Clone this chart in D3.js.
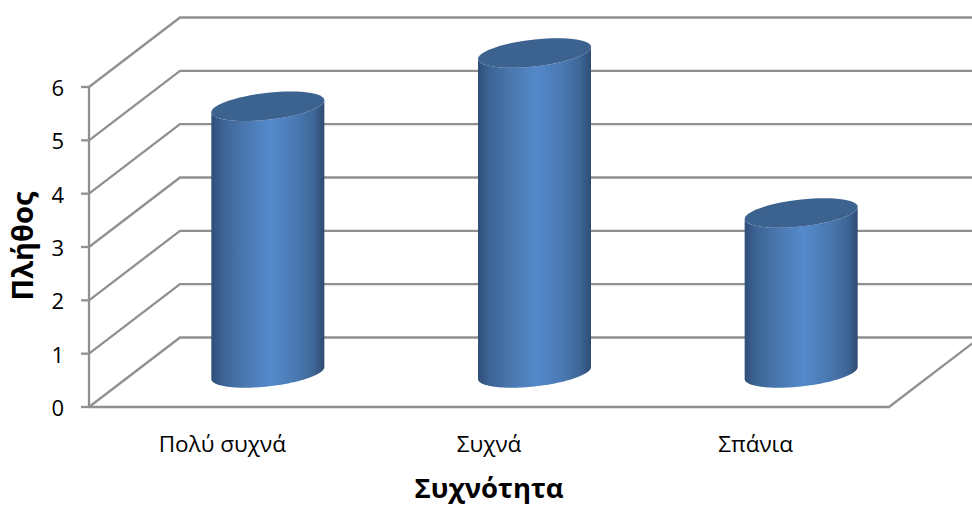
<!DOCTYPE html>
<html lang="el">
<head>
<meta charset="utf-8">
<script src="https://cdn.jsdelivr.net/npm/d3@7"></script>
<style>
  html, body { margin: 0; padding: 0; background: #fff; }
  svg { display: block; }
  text { font-family: "Open Sans", "Noto Sans", sans-serif; fill: #000; }
</style>
</head>
<body>
<svg id="chart" width="972" height="506"></svg>
<script>
const categories = ["Πολύ συχνά", "Συχνά", "Σπάνια"];
const counts = [5, 6, 3];
const yTicks = [0, 1, 2, 3, 4, 5, 6];
const xTitle = "Συχνότητα";
const yTitle = "Πλήθος";

const svg = d3.select("#chart");
const W = 972, H = 506;

// Front plane of the 3D box, and the shift from the front plane to the back wall
const x = d3.scaleBand().domain(categories).range([89, 889]);
const y = d3.scaleLinear().domain([0, 6]).range([407, 87]);
const depthX = 91, depthY = -69.5;
const gridColor = "#909090";

const defs = svg.append("defs");
const grad = defs.append("linearGradient").attr("id", "cylinderSide");
[[0, "#2e4e77"], [0.1, "#3d6495"], [0.3, "#4a78b0"], [0.52, "#5489cb"],
 [0.74, "#4a79b3"], [0.9, "#3f6798"], [1, "#2e4c72"]].forEach(([o, c]) =>
  grad.append("stop").attr("offset", o).attr("stop-color", c));
const clip = defs.append("clipPath").attr("id", "plotClip");
clip.append("rect").attr("width", W).attr("height", H);

const frame = svg.append("g").attr("clip-path", "url(#plotClip)")
  .attr("fill", "none").attr("stroke", gridColor).attr("stroke-width", 2.3);

// Horizontal rules on the back wall with their slanted side-wall runs
frame.selectAll("path.grid").data(yTicks).join("path")
  .attr("class", "grid")
  .attr("d", d => {
    const p = d3.path();
    p.moveTo(x.range()[0], y(d));
    p.lineTo(x.range()[0] + depthX, y(d) + depthY);
    p.lineTo(W + 10, y(d) + depthY);
    return p.toString();
  });

// Floor edges
const floor = d3.path();
floor.moveTo(x.range()[0], y(0));
floor.lineTo(x.range()[1], y(0));
floor.lineTo(x.range()[1] + depthX, y(0) + depthY);
frame.append("path").attr("d", floor.toString());

// Value axis with outward ticks
frame.append("line")
  .attr("x1", x.range()[0]).attr("x2", x.range()[0])
  .attr("y1", y(6)).attr("y2", y(0));
frame.selectAll("line.tick").data(yTicks).join("line")
  .attr("class", "tick")
  .attr("x1", x.range()[0] - 8).attr("x2", x.range()[0])
  .attr("y1", d => y(d)).attr("y2", d => y(d));

svg.selectAll("text.ytick").data(yTicks).join("text")
  .attr("class", "ytick")
  .attr("x", 64).attr("y", d => y(d) + 1)
  .attr("dy", "0.36em").attr("text-anchor", "end")
  .attr("font-size", 22)
  .text(d => d);

// Cylinders stand midway through the depth of the box
const radiusX = 56.5, radiusY = 13.5, shear = 6;
const standOffset = depthY / 2 + 0.7;
const ellipsePoint = (cx, cy, t) => [
  cx + radiusX * Math.cos(t),
  cy + radiusY * Math.sin(t) - shear * Math.cos(t)
];
const arcPoints = (cx, cy, from, to) =>
  d3.range(0, 61).map(i => ellipsePoint(cx, cy, from + (to - from) * i / 60));
const line = d3.line();

const bars = svg.append("g").selectAll("g").data(categories).join("g");
bars.each(function (c, i) {
  const cx = x(c) + x.bandwidth() / 2 + depthX / 2;
  const base = y(0) + standOffset;
  const top = y(counts[i]) + standOffset;
  const g = d3.select(this);
  // Side wall: up the right edge, across the top, down the left, round the base
  const side = [
    ...arcPoints(cx, top, Math.PI, 0),
    ...arcPoints(cx, base, 0, Math.PI)
  ];
  g.append("path").attr("d", line(side) + "Z").attr("fill", "url(#cylinderSide)");
  g.append("path")
    .attr("d", line(arcPoints(cx, top, 0, 2 * Math.PI)) + "Z")
    .attr("fill", "#3c628f");
});

svg.selectAll("text.xtick").data(categories).join("text")
  .attr("class", "xtick")
  .attr("x", d => x(d) + x.bandwidth() / 2)
  .attr("y", 452)
  .attr("text-anchor", "middle")
  .attr("font-size", 22.5)
  .text(d => d);

svg.append("text")
  .attr("x", 489).attr("y", 498)
  .attr("text-anchor", "middle")
  .attr("font-size", 27.5).attr("font-weight", 700)
  .text(xTitle);

svg.append("text")
  .attr("transform", "translate(33,246) rotate(-90)")
  .attr("text-anchor", "middle")
  .attr("font-size", 29).attr("font-weight", 700)
  .text(yTitle);
</script>
</body>
</html>
